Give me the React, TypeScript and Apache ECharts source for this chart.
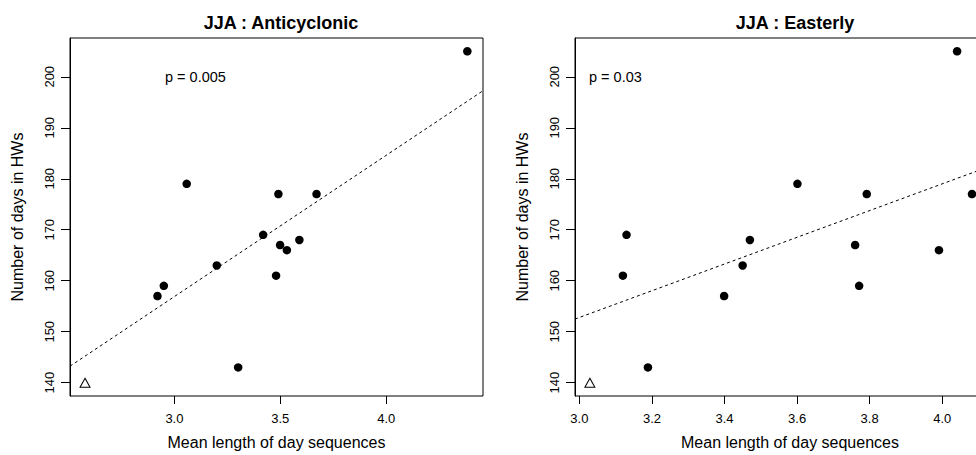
import React, { useEffect, useRef } from "react";
import * as echarts from "echarts";

// Anticyclonic panel data
const antiX = [4.383, 3.058, 3.491, 3.671, 3.419, 3.59, 3.499, 3.531, 3.2, 3.48, 2.95, 2.92, 3.301];
const antiY = [205, 179, 177, 177, 169, 168, 167, 166, 163, 161, 159, 157, 143];
const antiTriangle = [2.578, 140];
const antiFit = { intercept: 73.8, slope: 27.7 };
const antiP = "p = 0.005";

// Easterly panel data
const eastX = [4.041, 3.601, 3.792, 4.082, 3.13, 3.47, 3.76, 3.991, 3.45, 3.12, 3.771, 3.399, 3.189];
const eastY = [205, 179, 177, 177, 169, 168, 167, 166, 163, 161, 159, 157, 143];
const eastTriangle = [3.029, 140];
const eastFit = { intercept: 74.2, slope: 26.2 };
const eastP = "p = 0.03";

const yTicks = [140, 150, 160, 170, 180, 190, 200];
const antiXTicks = [3.0, 3.5, 4.0];
const eastXTicks = [3.0, 3.2, 3.4, 3.6, 3.8, 4.0];

const titles = ["JJA : Anticyclonic", "JJA : Easterly"];
const xName = "Mean length of day sequences";
const yName = "Number of days in HWs";

const FONT = "Liberation Sans";

export default function App() {
  const ref = useRef<HTMLDivElement>(null);
  useEffect(() => {
    document.body.style.margin = "0";
    document.body.style.overflow = "hidden";
    const chart = echarts.init(ref.current!, null, { renderer: "svg" });

    const yMin = 137.4, yMax = 207.6;
    const xRanges = [
      [2.507, 4.457],
      [2.988, 4.173],
    ];

    const mkX = (i: number, ticks: number[]) => ({
      type: "value",
      gridIndex: i,
      min: xRanges[i][0],
      max: xRanges[i][1],
      splitLine: { show: false },
      axisLine: { show: false },
      axisTick: { show: true, length: 8, customValues: ticks, lineStyle: { color: "#000" } },
      axisLabel: {
        customValues: ticks,
        formatter: (v: number) => v.toFixed(1),
        color: "#000",
        fontFamily: FONT,
        fontSize: 13,
        margin: 16,
      },
      name: xName,
      nameLocation: "middle",
      nameGap: 38,
      nameTextStyle: { color: "#000", fontFamily: FONT, fontSize: 16 },
    });
    const mkY = (i: number) => ({
      type: "value",
      gridIndex: i,
      min: yMin,
      max: yMax,
      splitLine: { show: false },
      axisLine: { show: true, lineStyle: { color: "#000" } },
      axisTick: { show: true, length: 9, customValues: yTicks, lineStyle: { color: "#000" } },
      axisLabel: {
        customValues: yTicks,
        rotate: 90,
        color: "#000",
        fontFamily: FONT,
        fontSize: 13,
        margin: 14,
      },
      name: yName,
      nameLocation: "middle",
      nameGap: 45,
      nameTextStyle: { color: "#000", fontFamily: FONT, fontSize: 16 },
    });

    const fitLine = (i: number, fit: { intercept: number; slope: number }) => ({
      type: "line",
      xAxisIndex: i,
      yAxisIndex: i,
      symbol: "none",
      clip: true,
      silent: true,
      lineStyle: { color: "#000", width: 1, type: [3, 3] },
      data: xRanges[i].map((x) => [x, fit.intercept + fit.slope * x]),
    });
    const dots = (i: number, xs: number[], ys: number[]) => ({
      type: "scatter",
      xAxisIndex: i,
      yAxisIndex: i,
      symbol: "circle",
      symbolSize: 8.5,
      itemStyle: { color: "#000", opacity: 1 },
      data: xs.map((x, k) => [x, ys[k]]),
    });
    const tri = (i: number, p: number[]) => ({
      type: "scatter",
      xAxisIndex: i,
      yAxisIndex: i,
      symbol: "triangle",
      symbolSize: [10, 9],
      itemStyle: { color: "transparent", borderColor: "#000", borderWidth: 1, opacity: 1 },
      data: [p],
    });

    const titleStyle = { fontFamily: FONT, fontSize: 18, fontWeight: "bold", color: "#000" };

    chart.setOption({
      animation: false,
      backgroundColor: "#fff",
      title: [
        { text: titles[0], left: 276, top: 9, textAlign: "center", textStyle: titleStyle },
        { text: titles[1], left: 790, top: 9, textAlign: "center", textStyle: titleStyle },
      ],
      grid: [
        { left: 70, top: 38, width: 413, height: 360, show: true, borderColor: "#000", borderWidth: 1, backgroundColor: "transparent" },
        { left: 575, top: 38, width: 430, height: 360, show: true, borderColor: "#000", borderWidth: 1, backgroundColor: "transparent" },
      ],
      xAxis: [mkX(0, antiXTicks), mkX(1, eastXTicks)],
      yAxis: [mkY(0), mkY(1)],
      series: [
        fitLine(0, antiFit),
        dots(0, antiX, antiY),
        tri(0, antiTriangle),
        fitLine(1, eastFit),
        dots(1, eastX, eastY),
        tri(1, eastTriangle),
      ],
      graphic: [
        { type: "text", left: 165, top: 69, style: { text: antiP, fontFamily: FONT, fontSize: 14.5, fill: "#000" } },
        { type: "text", left: 589, top: 69, style: { text: eastP, fontFamily: FONT, fontSize: 14.5, fill: "#000" } },
      ],
    });
    return () => chart.dispose();
  }, []);
  return (
    <div style={{ width: 976, height: 455, overflow: "hidden", position: "relative" }}>
      <div ref={ref} style={{ width: 1020, height: 455 }} />
    </div>
  );
}
